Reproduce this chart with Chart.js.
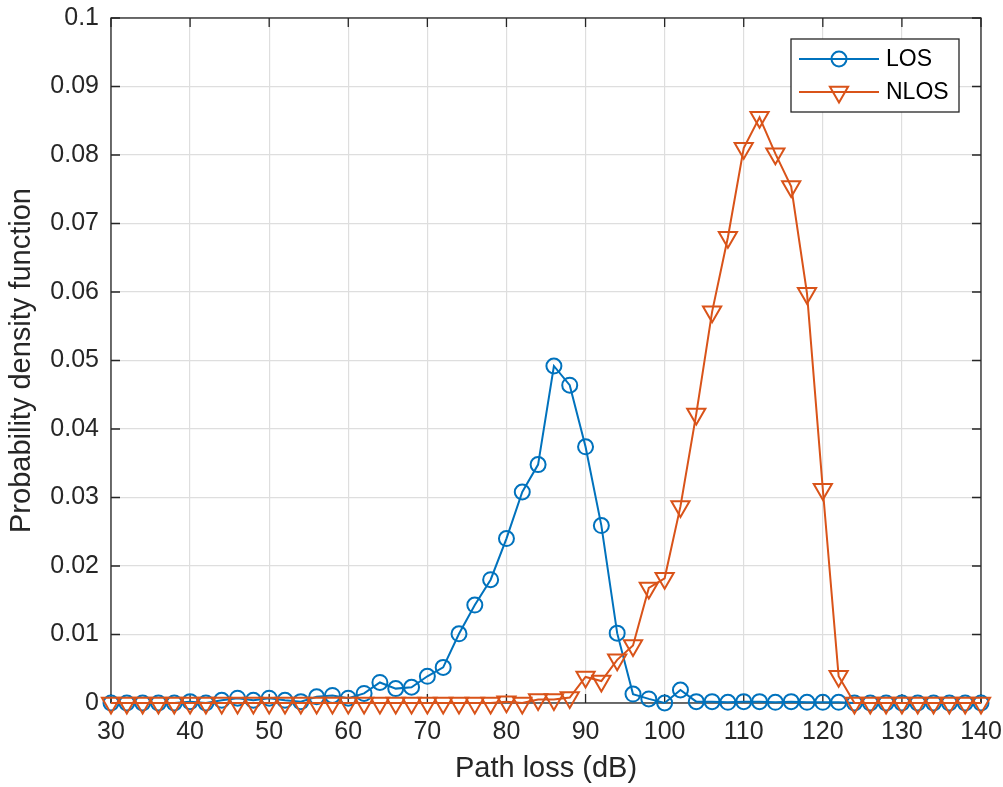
<!DOCTYPE html>
<html>
<head>
<meta charset="utf-8">
<script src="https://cdn.jsdelivr.net/npm/chart.js@4"></script>
<style>
  body { margin: 0; background: #fff; }
  #wrap { width: 1003px; height: 787px; position: relative; }
</style>
</head>
<body>
<div id="wrap"><canvas id="myChart"></canvas></div>
<script>
// path loss bins (dB)
const pathLoss = [30, 32, 34, 36, 38, 40, 42, 44, 46, 48, 50, 52, 54, 56, 58, 60, 62, 64, 66, 68,
    70, 72, 74, 76, 78, 80, 82, 84, 86, 88, 90, 92, 94, 96, 98, 100, 102, 104, 106, 108,
    110, 112, 114, 116, 118, 120, 122, 124, 126, 128, 130, 132, 134, 136, 138, 140];

// LOS pdf
const losPdf = [0, 0, 0, 0, 0, 0.0002, 0, 0.0004, 0.0007, 0.0004, 0.0007, 0.0004, 0.0002, 0.0009, 0.0011, 0.0007, 0.0014, 0.003, 0.0021, 0.0023,
    0.0039, 0.0052, 0.0101, 0.0143, 0.018, 0.024, 0.0308, 0.0348, 0.0492, 0.0464, 0.0374, 0.0259, 0.0102, 0.0013, 0.0006, 0, 0.0019, 0.0002, 0.0002, 0.0001,
    0.0002, 0.0002, 0.0001, 0.0002, 0.0001, 0.0001, 0.0001, 0, 0, 0, 0, 0, 0, 0, 0, 0];

// NLOS pdf
const nlosPdf = [0, 0, 0, 0, 0, 0, 0, 0, 0, 0, 0, 0, 0, 0, 0, 0, 0, 0, 0, 0,
    0, 0, 0, 0, 0, 0.0002, 0, 0.0005, 0.0005, 0.0008, 0.0038, 0.0032, 0.0063, 0.0084, 0.0168, 0.0182, 0.0287, 0.0422, 0.0571, 0.068,
    0.081, 0.0855, 0.0802, 0.0754, 0.0598, 0.0312, 0.0039, 0, 0, 0, 0, 0, 0, 0, 0, 0];

// tick values and labels
const xTicks = [30, 40, 50, 60, 70, 80, 90, 100, 110, 120, 130, 140];
const yTicks = [0, 0.01, 0.02, 0.03, 0.04, 0.05, 0.06, 0.07, 0.08, 0.09, 0.1];
const yTickLabels = ['0', '0.01', '0.02', '0.03', '0.04', '0.05', '0.06', '0.07', '0.08', '0.09', '0.1'];

const FONT = '"Liberation Sans", Arial, Helvetica, sans-serif';
const INK = '#262626';
const BLUE = '#0072BD';
const ORANGE = '#D95319';

function toPoints(ys) {
    return pathLoss.map((x, i) => ({ x: x, y: ys[i] }));
}

// draw one marker (circle or down triangle)
function drawMarker(ctx, style, x, y, color) {
    ctx.save();
    ctx.strokeStyle = color;
    ctx.lineWidth = 2;
    ctx.beginPath();
    if (style === 'circle') {
        ctx.arc(x, y, 7.5, 0, Math.PI * 2);
    } else {
        const r = 10.5;
        ctx.moveTo(x, y + r);
        ctx.lineTo(x - r * Math.sqrt(3) / 2, y - r / 2);
        ctx.lineTo(x + r * Math.sqrt(3) / 2, y - r / 2);
        ctx.closePath();
    }
    ctx.stroke();
    ctx.restore();
}

// box, inward ticks on all four sides
const framePlugin = {
    id: 'frame',
    beforeDatasetsDraw(chart) {
        const ctx = chart.ctx;
        const a = chart.chartArea;
        const xs = chart.scales.x, ys = chart.scales.y;
        ctx.save();
        ctx.strokeStyle = INK;
        ctx.lineWidth = 1.3;
        ctx.strokeRect(a.left, a.top, a.right - a.left, a.bottom - a.top);
        ctx.beginPath();
        xTicks.forEach(v => {
            const px = xs.getPixelForValue(v);
            ctx.moveTo(px, a.bottom); ctx.lineTo(px, a.bottom - 9);
            ctx.moveTo(px, a.top); ctx.lineTo(px, a.top + 9);
        });
        yTicks.forEach(v => {
            const py = ys.getPixelForValue(v);
            ctx.moveTo(a.left, py); ctx.lineTo(a.left + 9, py);
            ctx.moveTo(a.right, py); ctx.lineTo(a.right - 9, py);
        });
        ctx.stroke();
        ctx.restore();
    }
};

// legend box in the top right corner
const legendPlugin = {
    id: 'boxLegend',
    afterDraw(chart) {
        const ctx = chart.ctx;
        const a = chart.chartArea;
        const w = 168, h = 73;
        const left = a.right - 22 - w;
        const top = a.top + 21;
        ctx.save();
        ctx.fillStyle = '#fff';
        ctx.fillRect(left, top, w, h);
        ctx.strokeStyle = INK;
        ctx.lineWidth = 1.3;
        ctx.strokeRect(left, top, w, h);
        chart.data.datasets.forEach((ds, i) => {
            const y = top + 20 + i * 33;
            ctx.strokeStyle = ds.borderColor;
            ctx.lineWidth = 2;
            ctx.beginPath();
            ctx.moveTo(left + 8, y);
            ctx.lineTo(left + 88, y);
            ctx.stroke();
            drawMarker(ctx, ds.pointStyle, left + 48, y, ds.borderColor);
            ctx.fillStyle = '#000';
            ctx.font = '23px ' + FONT;
            ctx.textAlign = 'left';
            ctx.textBaseline = 'middle';
            ctx.fillText(ds.label, left + 95, y + 1);
        });
        ctx.restore();
    }
};

const ctx = document.getElementById('myChart').getContext('2d');
const myChart = new Chart(ctx, {
    type: 'line',
    data: {
        datasets: [{
            label: 'LOS',
            data: toPoints(losPdf),
            borderColor: BLUE,
            borderWidth: 2,
            pointStyle: 'circle',
            pointRadius: 7.5,
            pointBorderWidth: 2,
            pointBackgroundColor: 'rgba(0,0,0,0)',
            pointBorderColor: BLUE,
            tension: 0,
            clip: false,
            order: 1
        }, {
            label: 'NLOS',
            data: toPoints(nlosPdf),
            borderColor: ORANGE,
            borderWidth: 2,
            pointStyle: 'triangle',
            pointRotation: 180,
            pointRadius: 10.5,
            pointBorderWidth: 2,
            pointBackgroundColor: 'rgba(0,0,0,0)',
            pointBorderColor: ORANGE,
            tension: 0,
            clip: false,
            order: 0
        }]
    },
    options: {
        responsive: true,
        maintainAspectRatio: false,
        animation: false,
        layout: { padding: { top: 18, right: 22, left: 0, bottom: 0 } },
        plugins: {
            legend: { display: false },
            tooltip: { enabled: false }
        },
        scales: {
            x: {
                type: 'linear',
                min: 30,
                max: 140,
                afterBuildTicks: s => { s.ticks = xTicks.map(v => ({ value: v })); },
                afterFit: s => {
                    s.height = 84;
                    s.paddingLeft = 0;
                    s.paddingRight = 0;
                },
                ticks: {
                    color: INK,
                    font: { family: FONT, size: 25 },
                    padding: 14,
                    maxRotation: 0,
                    autoSkip: false
                },
                grid: { color: '#dedede', lineWidth: 1.2, drawTicks: false },
                border: { display: false },
                title: {
                    display: true,
                    text: 'Path loss (dB)',
                    color: INK,
                    font: { family: FONT, size: 29 },
                    padding: { top: 0, bottom: 1 }
                }
            },
            y: {
                type: 'linear',
                min: 0,
                max: 0.1,
                afterBuildTicks: s => { s.ticks = yTicks.map(v => ({ value: v })); },
                afterFit: s => {
                    s.width = 111;
                    s.paddingTop = 0;
                    s.paddingBottom = 0;
                },
                ticks: {
                    color: INK,
                    font: { family: FONT, size: 25 },
                    padding: 12,
                    autoSkip: false,
                    callback: (v, i) => yTickLabels[i]
                },
                grid: { color: '#dedede', lineWidth: 1.2, drawTicks: false },
                border: { display: false },
                title: {
                    display: true,
                    text: 'Probability density function',
                    color: INK,
                    font: { family: FONT, size: 29 },
                    padding: { top: 5, bottom: 0 }
                }
            }
        }
    },
    plugins: [framePlugin, legendPlugin]
});
</script>
</body>
</html>
